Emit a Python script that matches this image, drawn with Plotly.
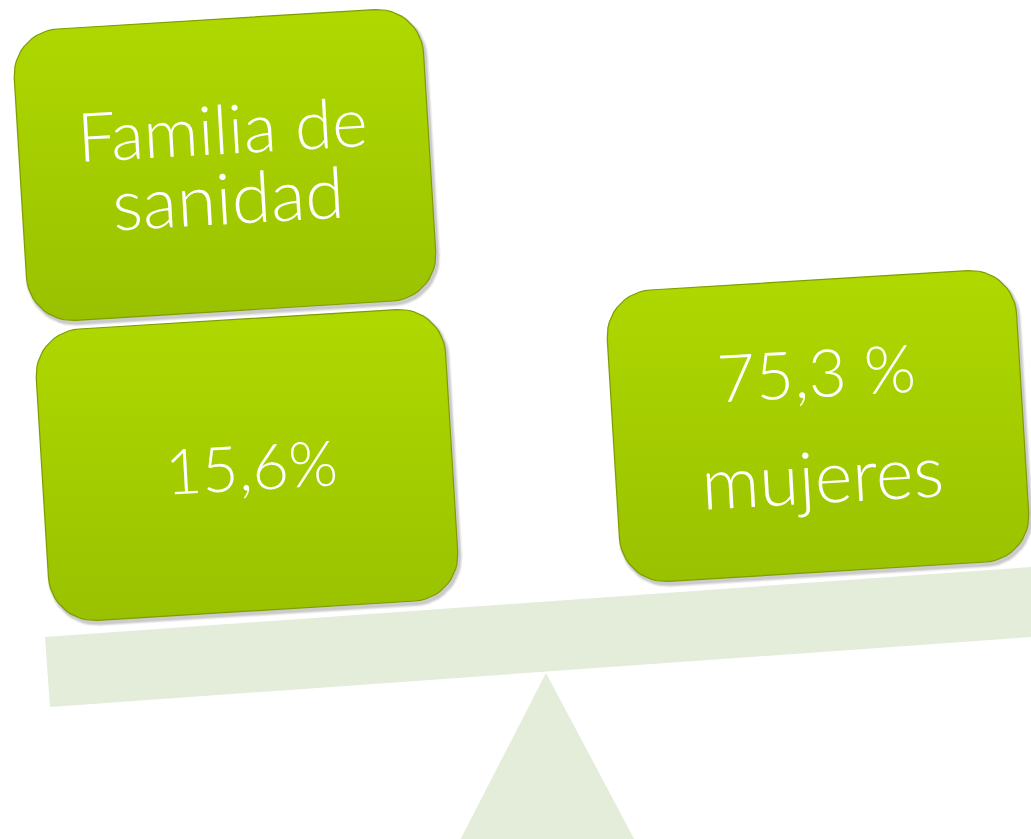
import numpy as np
import plotly.graph_objects as go

# ---- content ----
box_labels = [["Familia de", "sanidad"], ["15,6%"], ["75,3 %", "mujeres"]]
box_names = ["Familia de sanidad", "15,6%", "75,3 % mujeres"]

# ---- layout constants (pixels) ----
W, H = 1031, 839
ANGLE = 3.5          # degrees, boxes tilt (right side up)
TEXT_ANGLE = -3.2
BOX_W, BOX_H, BOX_R = 410, 292, 46
box_centers = [(225, 165), (247, 465), (818, 426)]
line_pos = [[(222, 127), (228, 196)], [(251, 465)], [(816, 371), (822, 475)]]
font_sizes = [[68, 71], [63], [66, 72]]

GREEN_TOP = "#B0D900"
GREEN_BOT = "#99C100"
BEAM = "#E3EDD9"


def rounded_rect(cx, cy, w, h, r, ang_deg, n=14):
    hw, hh = w / 2, h / 2
    pts = []
    corners = [(hw - r, -hh + r, -90, 0), (hw - r, hh - r, 0, 90),
               (-hw + r, hh - r, 90, 180), (-hw + r, -hh + r, 180, 270)]
    for ccx, ccy, a0, a1 in corners:
        for t in np.linspace(np.radians(a0), np.radians(a1), n):
            pts.append((ccx + r * np.cos(t), ccy + r * np.sin(t)))
    pts = np.array(pts)
    a = np.radians(-ang_deg)  # screen y down: negative rotates right side up
    xr = pts[:, 0] * np.cos(a) - pts[:, 1] * np.sin(a) + cx
    yr = pts[:, 0] * np.sin(a) + pts[:, 1] * np.cos(a) + cy
    return np.append(xr, xr[0]), np.append(yr, yr[0])


fig = go.Figure()

# beam and fulcrum
beam_x = [45, 1031, 1031, 50, 45]
beam_y = [637, 567, 637, 707, 637]
fig.add_trace(go.Scatter(x=[546, 640, 455, 546], y=[673, 850, 850, 673], fill="toself",
                         fillcolor=BEAM, line=dict(width=0), mode="lines", hoverinfo="skip"))
fig.add_trace(go.Scatter(x=beam_x, y=beam_y, fill="toself", fillcolor=BEAM,
                         line=dict(width=0), mode="lines", hoverinfo="skip"))

for i, (cx, cy) in enumerate(box_centers):
    # soft shadow
    for k, alpha in [(6, 0.05), (4, 0.07), (2, 0.09)]:
        sx, sy = rounded_rect(cx + 2, cy + 3, BOX_W + k, BOX_H + k, BOX_R + k / 2, ANGLE)
        fig.add_trace(go.Scatter(x=sx, y=sy, fill="toself", fillcolor=f"rgba(0,0,0,{alpha})",
                                 line=dict(width=0), mode="lines", hoverinfo="skip"))
    bx, by = rounded_rect(cx, cy, BOX_W, BOX_H, BOX_R, ANGLE)
    fig.add_trace(go.Scatter(
        x=bx, y=by, fill="toself", mode="lines", name=box_names[i],
        line=dict(width=1.2, color="#7E9E00"),
        fillgradient=dict(type="vertical", start=cy - BOX_H / 2 - 15, stop=cy + BOX_H / 2 + 15,
                          colorscale=[[0, GREEN_TOP], [1, GREEN_BOT]]),
        hoverinfo="skip"))
    for j, txt in enumerate(box_labels[i]):
        tx, ty = line_pos[i][j]
        fig.add_annotation(x=tx, y=ty, text=txt, showarrow=False, textangle=TEXT_ANGLE,
                           xanchor="center", yanchor="middle",
                           font=dict(family="Lato", size=font_sizes[i][j], color="white", weight=300))

fig.update_xaxes(range=[0, W], visible=False, fixedrange=True)
fig.update_yaxes(range=[H, 0], visible=False, fixedrange=True)
fig.update_layout(width=W, height=H, margin=dict(l=0, r=0, t=0, b=0),
                  plot_bgcolor="white", paper_bgcolor="white", showlegend=False)
fig.write_html("out.html", config={"displayModeBar": False},
               post_script="document.body.style.margin='0';document.body.style.overflow='hidden';")
